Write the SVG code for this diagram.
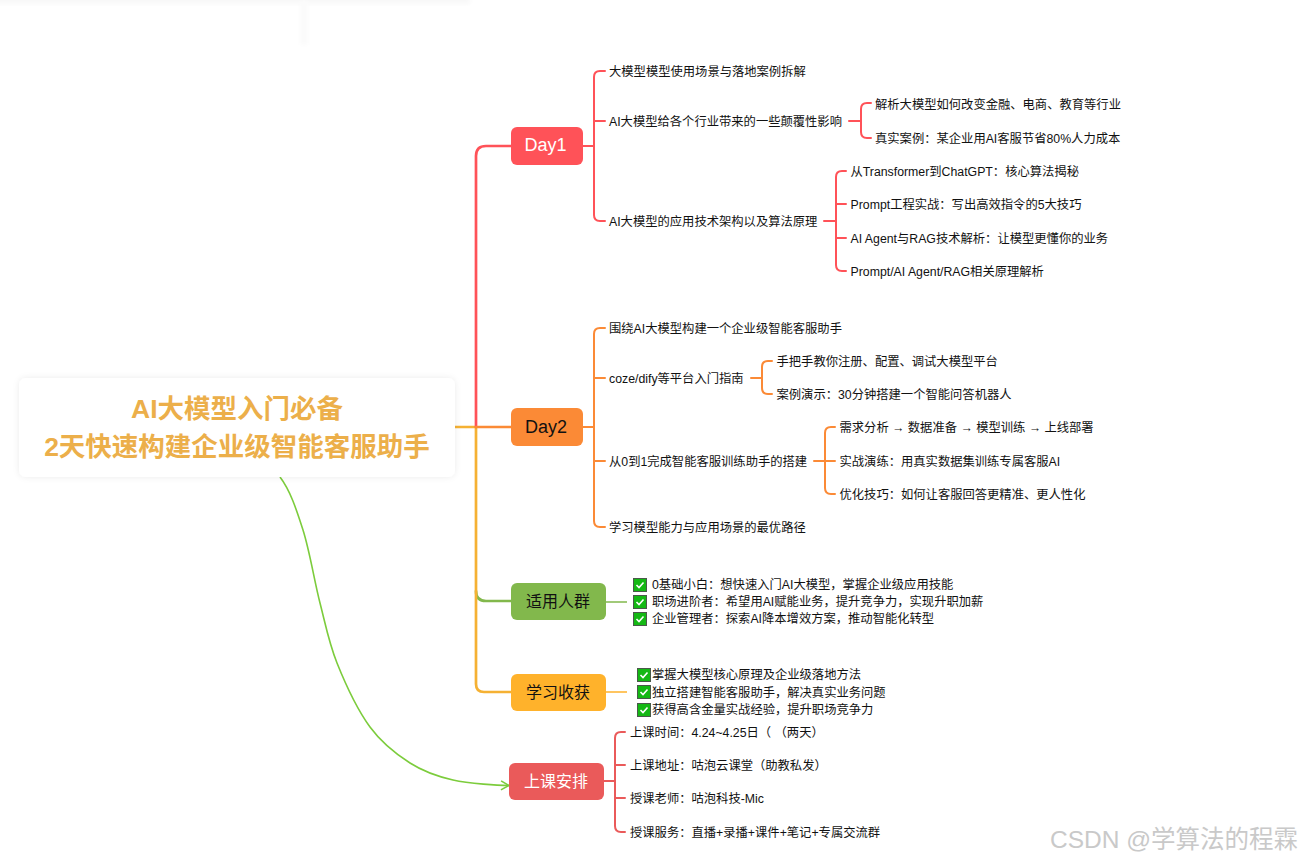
<svg xmlns="http://www.w3.org/2000/svg" width="1303" height="862" viewBox="0 0 1303 862">
<style>
text{font-family:"Liberation Sans","Noto Sans CJK SC",sans-serif;fill:#111}
.t{font-size:12.3px}
.n{font-size:16px;text-anchor:middle}
.w{fill:#fff}
.c{fill:none;stroke-linecap:round;stroke-linejoin:round}
.m{stroke-width:2.7}
.s{stroke-width:2}
.r{stroke:#ff5258}.o{stroke:#fb8a36}.g{stroke:#82b84c}.y{stroke:#ffb22b}.p{stroke:#ea5a5a}
.box{fill:#14b814;stroke:#4a5a4a;stroke-width:1}
.chk{fill:none;stroke:#fff;stroke-width:1.6}
</style>
<defs>
<filter id="sh" x="-5%" y="-15%" width="110%" height="130%"><feDropShadow dx="0" dy="0" stdDeviation="3" flood-color="#000" flood-opacity="0.08"/></filter>
<filter id="bl" x="-20%" y="-20%" width="140%" height="140%"><feGaussianBlur stdDeviation="2"/></filter>
<marker id="arr" markerUnits="userSpaceOnUse" markerWidth="12" markerHeight="12" refX="10" refY="6" orient="auto"><path d="M2 1.5L10 6L2 10.5" fill="none" stroke="#7ccc3c" stroke-width="1.6"/></marker>
<g id="ck"><rect class="box" x="0.5" y="0.5" width="13" height="13"/><path class="chk" d="M3.5 7L6 9.5L10.5 4.5"/></g>
</defs>
<rect width="1303" height="862" fill="#fff"/>
<rect x="-10" y="-4" width="480" height="8" fill="#f8f8f8" filter="url(#bl)"/>
<rect x="300" y="0" width="8" height="45" fill="#fbfbfb" filter="url(#bl)"/>
<g id="connectors">
<path class="c m g" d="M476 591Q476 601 486 601H511"/>
<path class="c m" stroke="#f5b133" d="M455 427H476M476 427V684Q476 692 484 692H511"/>
<path class="c m r" d="M476 427V156Q476 146 486 146H511"/>
<path class="c m o" d="M476 427H511"/>
<path fill="none" stroke="#7ccc3c" stroke-width="1.6" marker-end="url(#arr)" d="M280 477C290 490 296.3 509 303 530C309.7 551 314.3 580.8 320 603C325.7 625.2 328.7 642.3 337 663C345.3 683.7 357.8 710.3 370 727C382.2 743.7 396.2 754.2 410 763C423.8 771.8 436.5 776.25 453 780C469.5 783.75 499 785.3 509 785.5"/>
<path class="c s r" d="M583 146H594M605 71H600Q594 71 594 77V215Q594 221 600 221H605M594 121H605"/>
<path class="c s r" d="M849 121H861M871 103H867Q861 103 861 109V132Q861 138 867 138H871"/>
<path class="c s r" d="M824 221H836M846 171H842Q836 171 836 177V265Q836 271 842 271H846M836 204H846M836 238H846"/>
<path class="c s o" d="M583 427H594M605 328H600Q594 328 594 334V521Q594 527 600 527H605M594 378H605M594 461H605"/>
<path class="c s o" d="M751 378H762M772 361H768Q762 361 762 367V388Q762 394 768 394H772"/>
<path class="c s o" d="M814 461H825M835 427H831Q825 427 825 433V488Q825 494 831 494H835M825 461H835"/>
<path class="c s p" d="M604 781H615M625 732H621Q615 732 615 738V826Q615 832 621 832H625M615 765H625M615 798H625"/>
<path fill="none" stroke="#82b84c" stroke-width="1.5" d="M606 602H627"/>
<path fill="none" stroke="#ffb22b" stroke-width="1.5" d="M606 692H627"/>
</g>
<g id="root"><rect x="19" y="378" width="436" height="99" rx="7" fill="#fff" filter="url(#sh)"/>
<text x="237" y="418" text-anchor="middle" font-size="26.5" font-weight="700" style="fill:#ecaf4a">AI大模型入门必备</text>
<text x="237" y="456" text-anchor="middle" font-size="26.5" font-weight="700" style="fill:#ecaf4a">2天快速构建企业级智能客服助手</text></g>
<g id="day1"><rect x="511" y="127" width="72" height="38" rx="6" fill="#ff5258"/><text class="n w" x="545.5" y="151" style="font-size:18px">Day1</text>
<text class="t" x="609" y="75.7">大模型模型使用场景与落地案例拆解</text>
<text class="t" x="609" y="125.7">AI大模型给各个行业带来的一些颠覆性影响</text>
<text class="t" x="875" y="108.7">解析大模型如何改变金融、电商、教育等行业</text>
<text class="t" x="875" y="142.7">真实案例：某企业用AI客服节省80%人力成本</text>
<text class="t" x="609" y="225.7">AI大模型的应用技术架构以及算法原理</text>
<text class="t" x="850.5" y="175.5">从Transformer到ChatGPT：核心算法揭秘</text>
<text class="t" x="850.5" y="208.5">Prompt工程实战：写出高效指令的5大技巧</text>
<text class="t" x="850.5" y="242.5">AI Agent与RAG技术解析：让模型更懂你的业务</text>
<text class="t" x="850.5" y="275.5">Prompt/AI Agent/RAG相关原理解析</text></g>
<g id="day2"><rect x="511" y="408" width="72" height="38" rx="6" fill="#fb8a36"/><text class="n" x="546" y="433" style="font-size:18px">Day2</text>
<text class="t" x="609" y="332.7">围绕AI大模型构建一个企业级智能客服助手</text>
<text class="t" x="609" y="382.5">coze/dify等平台入门指南</text>
<text class="t" x="776.5" y="365.7">手把手教你注册、配置、调试大模型平台</text>
<text class="t" x="776.5" y="398.7">案例演示：30分钟搭建一个智能问答机器人</text>
<text class="t" x="609" y="465.7">从0到1完成智能客服训练助手的搭建</text>
<text class="t" x="839.5" y="431.7">需求分析 → 数据准备 → 模型训练 → 上线部署</text>
<text class="t" x="839.5" y="465.7">实战演练：用真实数据集训练专属客服AI</text>
<text class="t" x="839.5" y="498.7">优化技巧：如何让客服回答更精准、更人性化</text>
<text class="t" x="609" y="531.7">学习模型能力与应用场景的最优路径</text></g>
<g id="audience"><rect x="511" y="583" width="95" height="37" rx="6" fill="#82b84c"/><text class="n" x="558" y="606.5">适用人群</text>
<use href="#ck" x="633" y="578"/><use href="#ck" x="633" y="595"/><use href="#ck" x="633" y="612"/>
<text class="t" x="652" y="589">0基础小白：想快速入门AI大模型，掌握企业级应用技能</text>
<text class="t" x="652" y="606">职场进阶者：希望用AI赋能业务，提升竞争力，实现升职加薪</text>
<text class="t" x="652" y="623">企业管理者：探索AI降本增效方案，推动智能化转型</text></g>
<g id="gains"><rect x="511" y="674" width="95" height="37" rx="6" fill="#ffb22b"/><text class="n" x="558" y="697.5">学习收获</text>
<use href="#ck" x="637" y="668"/><use href="#ck" x="637" y="685"/><use href="#ck" x="637" y="703"/>
<text class="t" x="652" y="679">掌握大模型核心原理及企业级落地方法</text>
<text class="t" x="652" y="697">独立搭建智能客服助手，解决真实业务问题</text>
<text class="t" x="652" y="714">获得高含金量实战经验，提升职场竞争力</text></g>
<g id="schedule"><rect x="509" y="763" width="95" height="37" rx="6" fill="#ea5a5a"/><text class="n w" x="556" y="786.5">上课安排</text>
<text class="t" x="630" y="736.5">上课时间：4.24~4.25日（ （两天）</text>
<text class="t" x="630" y="769.5">上课地址：咕泡云课堂（助教私发）</text>
<text class="t" x="630" y="802.5">授课老师：咕泡科技-Mic</text>
<text class="t" x="630" y="836.5">授课服务：直播+录播+课件+笔记+专属交流群</text></g>
<text x="1050" y="848" style="font-size:24.5px;fill:#c9c9c9">CSDN @学算法的程霖</text>
</svg>
